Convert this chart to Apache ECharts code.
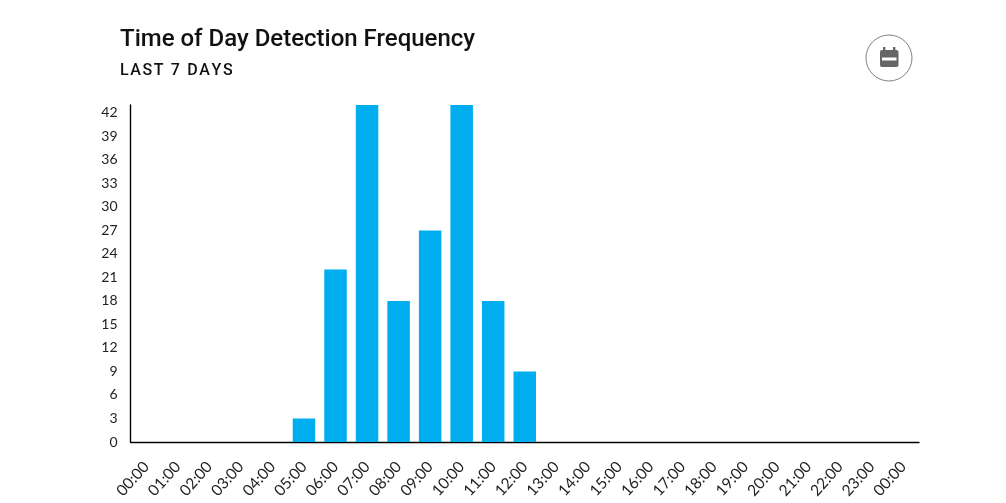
<!DOCTYPE html>
<html>
<head>
<meta charset="utf-8">
<style>html,body{margin:0;padding:0;background:#fff}#c{width:1006px;height:503px}</style>
<script src="https://cdn.jsdelivr.net/npm/echarts@6/dist/echarts.min.js"></script>
</head>
<body>
<div id="c"></div>
<script>
const hours = ['00:00','01:00','02:00','03:00','04:00','05:00','06:00','07:00','08:00','09:00','10:00','11:00','12:00','13:00','14:00','15:00','16:00','17:00','18:00','19:00','20:00','21:00','22:00','23:00','00:00'];
const detections = [0,0,0,0,0,3,22,43,18,27,43,18,9,0,0,0,0,0,0,0,0,0,0,0,0];
const chartTitle = 'Time of Day Detection Frequency';
const chartSubtitle = 'LAST 7 DAYS';

const chart = echarts.init(document.getElementById('c'), null, {renderer: 'canvas'});
chart.setOption({
  animation: false,
  backgroundColor: '#fff',
  grid: {left: 130.5, right: 87, top: 105, bottom: 61, containLabel: false},
  xAxis: {
    type: 'category',
    data: hours,
    axisLine: {lineStyle: {color: '#000', width: 1.4}},
    axisTick: {show: false},
    axisLabel: {interval: 0, rotate: 48, margin: 22, fontFamily: 'Lato', fontSize: 15.5, color: '#222'}
  },
  yAxis: {
    type: 'value',
    min: 0,
    max: 43,
    interval: 3,
    splitLine: {show: false},
    axisLine: {show: true, lineStyle: {color: '#000', width: 1.4}},
    axisTick: {show: false},
    axisLabel: {showMaxLabel: false, margin: 13, fontFamily: 'Lato', fontSize: 14, color: '#222'}
  },
  series: [{
    type: 'bar',
    data: detections,
    barWidth: 22.5,
    itemStyle: {color: '#00aeef'}
  }],
  graphic: [
    {type: 'text', left: 120, top: 28, style: {text: chartTitle, font: '500 24px Roboto', fill: '#111'}},
    // hair spaces widen the tracking of the caption
    {type: 'text', left: 120, top: 63, style: {text: chartSubtitle.split('').join('\u200a'), font: '500 16px Roboto', fill: '#111'}},
    {type: 'circle', shape: {cx: 889, cy: 58, r: 23}, style: {fill: '#fff', stroke: '#808080', lineWidth: 1}},
    // calendar glyph: body, header gap and two binder tabs
    {type: 'rect', shape: {x: 880, y: 50, width: 18.5, height: 17, r: 2}, style: {fill: '#666'}},
    {type: 'rect', shape: {x: 883, y: 47, width: 2.4, height: 4}, style: {fill: '#666'}},
    {type: 'rect', shape: {x: 893, y: 47, width: 2.4, height: 4}, style: {fill: '#666'}},
    {type: 'rect', shape: {x: 882, y: 57.5, width: 14.5, height: 3}, style: {fill: '#fff'}}
  ]
});
</script>
</body>
</html>
